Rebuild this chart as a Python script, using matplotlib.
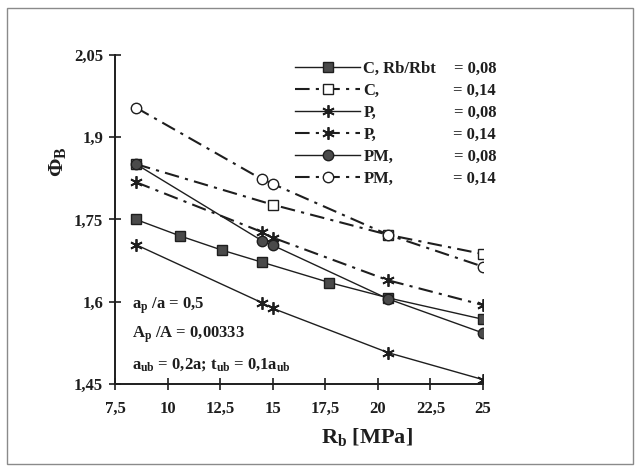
import matplotlib
matplotlib.use('Agg')
import matplotlib.pyplot as plt
from matplotlib.patches import Rectangle

plt.rcParams['font.family'] = ['Liberation Serif', 'DejaVu Serif']
plt.rcParams['font.weight'] = 'bold'
plt.rcParams['mathtext.fontset'] = 'custom'
plt.rcParams['mathtext.rm'] = 'Liberation Serif:bold'
plt.rcParams['mathtext.it'] = 'Liberation Serif:bold'
plt.rcParams['mathtext.bf'] = 'Liberation Serif:bold'

# data
x_c08 = [8.5, 10.6, 12.6, 14.5, 17.7, 20.5, 25]
c08 = [1.75, 1.72, 1.694, 1.672, 1.635, 1.607, 1.568]
x_c14 = [8.5, 15, 20.5, 25]
c14 = [1.851, 1.777, 1.722, 1.687]
x_p = [8.5, 14.5, 15, 20.5, 25]
p08 = [1.704, 1.598, 1.588, 1.507, 1.458]
p14 = [1.818, 1.727, 1.717, 1.639, 1.594]
pm08 = [1.851, 1.711, 1.703, 1.605, 1.543]
pm14 = [1.954, 1.823, 1.815, 1.722, 1.664]

series_names = ['C, Rb/Rbt', 'C,', 'P,', 'P,', 'PM,', 'PM,']
ratios = ['= 0,08', '= 0,14', '= 0,08', '= 0,14', '= 0,08', '= 0,14']

xticks = [7.5, 10, 12.5, 15, 17.5, 20, 22.5, 25]
xtick_labels = ['7,5', '10', '12,5', '15', '17,5', '20', '22,5', '25']
yticks = [1.45, 1.6, 1.75, 1.9, 2.05]
ytick_labels = ['1,45', '1,6', '1,75', '1,9', '2,05']

W, H = 641, 467
fig = plt.figure(figsize=(W / 100, H / 100), dpi=100)
ax = fig.add_axes([115 / W, 1 - 384 / H, (483 - 115) / W, (384 - 55) / H])

ink = '#1e1e1e'
fill = '#4a4a4a'
dashdot = (0, (7, 3, 1.5, 3))

ln1, = ax.plot(x_c08, c08, color=ink, lw=1.0, marker='s', ms=7.5, mfc=fill, mec=ink)
ln2, = ax.plot(x_c14, c14, color=ink, lw=1.5, ls=dashdot, marker='s', ms=7.5, mfc='white', mec=ink)
ln3, = ax.plot(x_p, p08, color=ink, lw=1.0, marker=(6, 2, 0), ms=9, mec=ink, mew=1.3)
ln4, = ax.plot(x_p, p14, color=ink, lw=1.5, ls=dashdot, marker=(6, 2, 0), ms=9, mec=ink, mew=1.3)
ln5, = ax.plot(x_p, pm08, color=ink, lw=1.0, marker='o', ms=7.5, mfc=fill, mec=ink)
ln6, = ax.plot(x_p, pm14, color=ink, lw=1.5, ls=dashdot, marker='o', ms=7.5, mfc='white', mec=ink)

ax.set_xlim(7.5, 25)
ax.set_ylim(1.45, 2.05)
ax.set_xticks(xticks)
ax.set_xticklabels(xtick_labels)
ax.set_yticks(yticks)
ax.set_yticklabels(ytick_labels)
ax.tick_params(direction='inout', length=9, width=1.2, labelsize=12, colors=ink, pad=4)
ax.tick_params(axis='x', pad=8)
for s in ['top', 'right']:
    ax.spines[s].set_visible(False)
for s in ['left', 'bottom']:
    ax.spines[s].set_linewidth(1.4)
    ax.spines[s].set_color(ink)

leg = ax.legend([ln1, ln2, ln3, ln4, ln5, ln6], series_names, loc='upper left',
                bbox_to_anchor=(295 / W, 1 - 61 / H), bbox_transform=fig.transFigure,
                frameon=False, fontsize=12, handlelength=3.9, handletextpad=0.2,
                labelspacing=0.36, borderpad=0, borderaxespad=0)
for t in leg.get_texts():
    t.set_color(ink)

# right column of the legend
fig.canvas.draw()
for t, r in zip(leg.get_texts(), ratios):
    bb = t.get_window_extent()
    fig.text(496 / W, bb.y0 / H, r, ha='right', va='bottom', fontsize=12, color=ink)

fig.text(132 / W, 1 - 306 / H, r'a$_{\mathrm{p}}$ /a = 0,5', fontsize=12, color=ink, va='center')
fig.text(132 / W, 1 - 335 / H, r'A$_{\mathrm{p}}$ /A = 0,00333', fontsize=12, color=ink, va='center')
fig.text(132 / W, 1 - 365 / H, r'a$_{\mathrm{ub}}$ = 0,2a; t$_{\mathrm{ub}}$ = 0,1a$_{\mathrm{ub}}$',
         fontsize=12, color=ink, va='center')

fig.text(367 / W, 1 - 437 / H, r'R$_{\mathrm{b}}$ [MPa]', fontsize=16, color=ink, ha='center', va='center')
fig.text(57 / W, 1 - 162 / H, r'Φ$_{\mathrm{B}}$', fontsize=16, color=ink, ha='center', va='center', rotation=90)

fig.patches.append(Rectangle((7 / W, 1 - 464 / H), (633 - 7) / W, (464 - 8) / H,
                             transform=fig.transFigure, fill=False, ec='#8a8a8a', lw=1))

fig.savefig('out.png', dpi=100)
